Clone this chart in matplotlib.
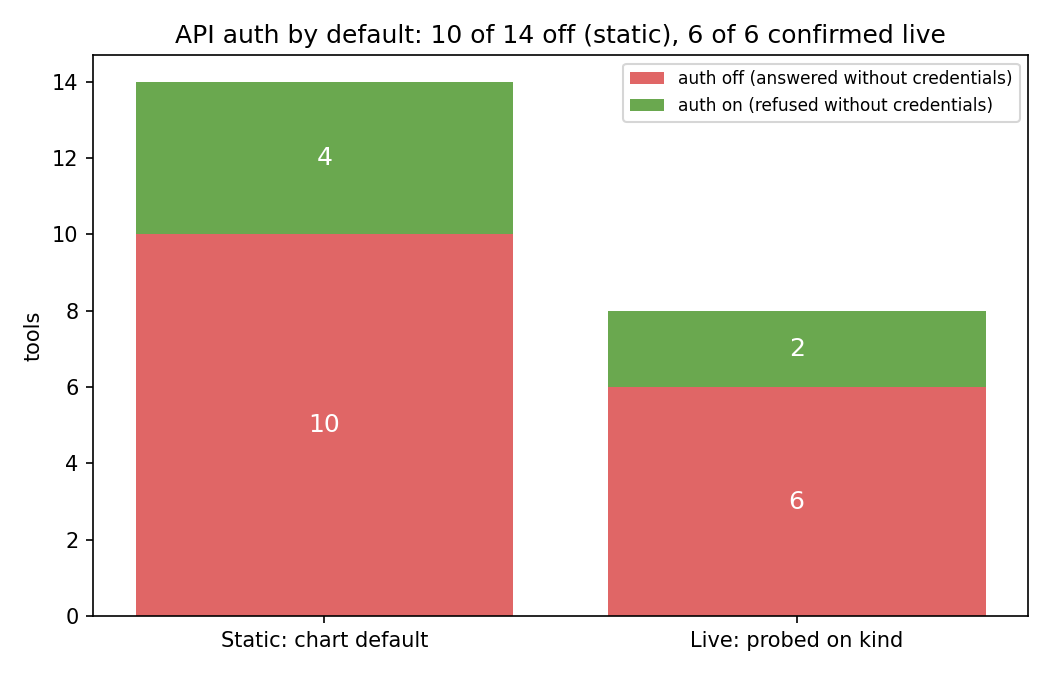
import matplotlib
matplotlib.use("Agg")
import matplotlib.pyplot as plt

categories = ["Static: chart default", "Live: probed on kind"]
auth_off = [10, 6]
auth_on = [4, 2]
series_labels = ["auth off (answered without credentials)", "auth on (refused without credentials)"]
title = "API auth by default: 10 of 14 off (static), 6 of 6 confirmed live"

fig = plt.figure(figsize=(7, 4.5), dpi=150)
ax = fig.add_axes([0.0886, 0.0874, 0.8905, 0.8311])
x = range(len(categories))
b1 = ax.bar(x, auth_off, width=0.8, color="#e06666", label=series_labels[0])
b2 = ax.bar(x, auth_on, width=0.8, bottom=auth_off, color="#6aa84f", label=series_labels[1])
ax.bar_label(b1, labels=[str(v) for v in auth_off], label_type="center", color="white", fontsize=12)
ax.bar_label(b2, labels=[str(v) for v in auth_on], label_type="center", color="white", fontsize=12)
ax.set_xticks(list(x))
ax.set_xticklabels(categories)
ax.set_ylabel("tools")
ax.set_title(title, fontsize=12)
ax.legend(loc="upper right", fontsize=8.2)
fig.savefig("out.png", dpi=150)
